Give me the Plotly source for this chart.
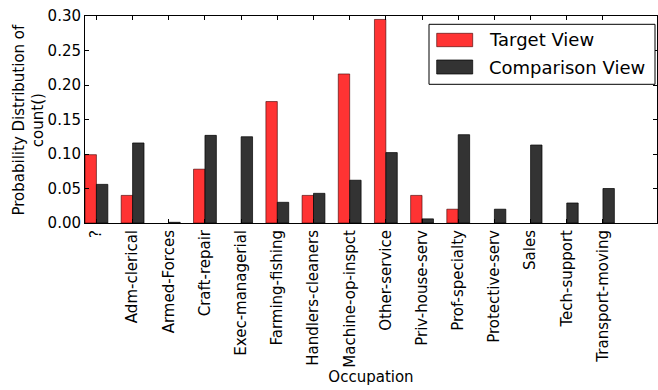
import plotly.graph_objects as go

# Occupation categories and probability distributions of count()
occupations = [
    "?", "Adm-clerical", "Armed-Forces", "Craft-repair", "Exec-managerial",
    "Farming-fishing", "Handlers-cleaners", "Machine-op-inspct", "Other-service",
    "Priv-house-serv", "Prof-specialty", "Protective-serv", "Sales",
    "Tech-support", "Transport-moving",
]
target_view = [
    0.099, 0.040, 0.0, 0.078, 0.0, 0.176, 0.040, 0.216, 0.295,
    0.040, 0.020, 0.0, 0.0, 0.0, 0.0,
]
comparison_view = [
    0.056, 0.116, 0.001, 0.127, 0.125, 0.030, 0.043, 0.062, 0.102,
    0.006, 0.128, 0.020, 0.113, 0.029, 0.050,
]
y_ticks = [0.00, 0.05, 0.10, 0.15, 0.20, 0.25, 0.30]

RED = "#ff3333"
DARK = "#333333"
RED_EDGE = "rgba(60,0,0,0.6)"
DARK_EDGE = "rgba(0,0,0,0.7)"
FONT = "DejaVu Sans"
W, H = 658, 390
ML, MR, MT, MB = 85, 1, 16, 167
BAR_W = 0.3155

idx = list(range(len(occupations)))


def edge_widths(values):
    # no outline on empty bars, so zero heights draw nothing
    return [1 if v > 0 else 0 for v in values]


fig = go.Figure()
fig.add_trace(go.Bar(
    x=idx, y=target_view, name="Target View",
    width=BAR_W, offset=-BAR_W,
    marker=dict(color=RED, line=dict(color=RED_EDGE, width=edge_widths(target_view))),
    showlegend=False,
))
fig.add_trace(go.Bar(
    x=idx, y=comparison_view, name="Comparison View",
    width=BAR_W, offset=0,
    marker=dict(color=DARK, line=dict(color=DARK_EDGE, width=edge_widths(comparison_view))),
    showlegend=False,
))

# pixel -> paper coordinate helpers for the legend box
pw = W - ML - MR
ph = H - MT - MB


def px(x):
    return (x - ML) / pw


def py(y):
    return (H - MB - y) / ph


shapes = [
    dict(type="rect", xref="paper", yref="paper",
         x0=px(429), x1=px(655), y0=py(84.3), y1=py(24.3),
         line=dict(color="black", width=1), fillcolor="white", layer="above"),
    dict(type="rect", xref="paper", yref="paper",
         x0=px(436.7), x1=px(472.7), y0=py(46.7), y1=py(33.3),
         line=dict(color=RED_EDGE, width=1), fillcolor=RED, layer="above"),
    dict(type="rect", xref="paper", yref="paper",
         x0=px(436.7), x1=px(472.7), y0=py(74), y1=py(60),
         line=dict(color=DARK_EDGE, width=1), fillcolor=DARK, layer="above"),
]
annotations = [
    dict(xref="paper", yref="paper", x=px(487), y=py(40), text="Target View",
         showarrow=False, xanchor="left", yanchor="middle",
         font=dict(family=FONT, size=18, color="black")),
    dict(xref="paper", yref="paper", x=px(487), y=py(67.5), text="Comparison View",
         showarrow=False, xanchor="left", yanchor="middle",
         font=dict(family=FONT, size=18, color="black")),
    dict(xref="paper", yref="paper", x=px(28), y=0.5,
         text="Probability Distribution of<br>count()", textangle=-90,
         showarrow=False, xanchor="center", yanchor="middle",
         font=dict(family=FONT, size=15, color="black")),
]

fig.update_layout(
    width=W, height=H,
    margin=dict(l=ML, r=MR, t=MT, b=MB),
    paper_bgcolor="white", plot_bgcolor="white",
    font=dict(family=FONT, size=15, color="black"),
    barmode="overlay",
    shapes=shapes,
    annotations=annotations,
)
fig.update_xaxes(
    range=[-BAR_W, 15.494],
    tickmode="array", tickvals=idx, ticktext=occupations,
    tickangle=-90,
    ticks="inside", ticklen=4, tickcolor="black",
    showline=True, linecolor="black", linewidth=1, mirror="ticks",
    showgrid=False, zeroline=False,
    title=dict(text="Occupation", font=dict(family=FONT, size=15), standoff=4),
)
fig.update_yaxes(
    range=[0, 0.30],
    tickmode="array", tickvals=y_ticks,
    ticktext=[f"{v:.2f}" for v in y_ticks],
    ticks="inside", ticklen=4, tickcolor="black",
    showline=True, linecolor="black", linewidth=1, mirror="ticks",
    showgrid=False, zeroline=False,
)

fig.write_html("out.html")
